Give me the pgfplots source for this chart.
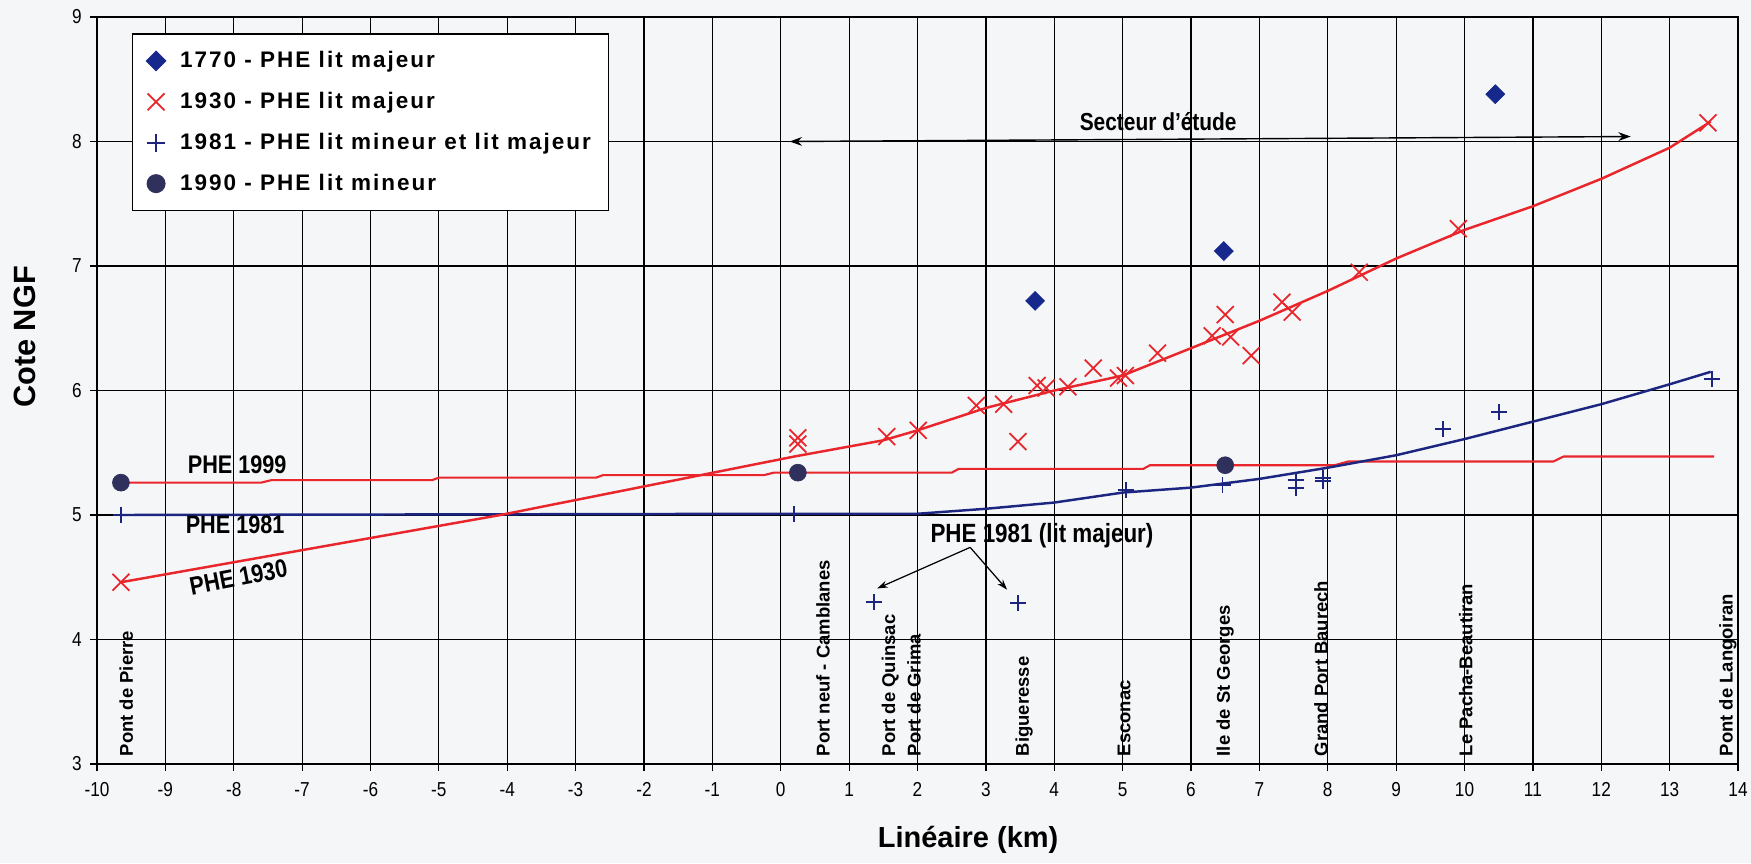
\documentclass[border=0pt]{standalone}
\usepackage{fontspec}
\setmainfont{Liberation Sans}
\newfontfamily\legfont[LetterSpace=9]{Liberation Sans}
\newfontfamily\narrowfont[FakeStretch=0.85]{Liberation Sans}
\usepackage{pgfplots}
\pgfplotsset{compat=1.18}
\usetikzlibrary{arrows.meta}

\definecolor{phered}{RGB}{232,38,43}
\definecolor{pheblue}{RGB}{28,38,128}
\definecolor{diamondblue}{RGB}{22,40,140}
\definecolor{circ}{RGB}{48,48,92}
\definecolor{bgc}{RGB}{245,246,248}

\begin{document}
\begin{tikzpicture}
\fill[bgc] (-1.94,-1.98) rectangle (33.08,15.28);
\useasboundingbox (-1.94,-1.98) rectangle (33.08,15.28);
\begin{axis}[
  at={(0,0)}, anchor=south west,
  width=32.82cm, height=14.94cm, scale only axis,
  xmin=-10, xmax=14, ymin=3, ymax=9,
  xtick={-10,-9,...,14}, ytick={3,4,...,9},
  grid=major,
  major grid style={black, line width=0.7pt},
  axis line style={black, line width=1.4pt},
  tick style={black, line width=0.7pt},
  tick align=outside, major tick length=0.14cm,
  xtick pos=lower, ytick pos=left,
  /pgf/number format/assume math mode=true,
  ticklabel style={font=\narrowfont\fontsize{11.5}{13}\selectfont},
  xticklabel style={yshift=-0.1cm},
  yticklabel style={xshift=-0.04cm},
  clip=false,
  legend cell align=left,
  legend style={at={(axis cs:-9.49,8.87)}, anchor=north west,
    draw=black, line width=0.8pt, fill=white,
    font=\legfont\fontsize{12.8}{15}\bfseries,
    row sep=8.5pt, column sep=0.22cm, inner xsep=8pt, inner ysep=8pt},
]
% PHE 1990 circles
\addplot[only marks, mark=*, mark size=4.8pt, mark options={fill=circ, draw=circ}, forget plot]
  coordinates {(-9.65,5.26) (0.25,5.34) (6.5,5.40)};
% PHE 1999 line
\addplot[phered, line width=1.2pt, forget plot] coordinates {
(-9.65,5.26) (-7.6,5.26) (-7.45,5.28) (-5.1,5.28) (-5.0,5.30) (-2.7,5.30) (-2.6,5.32)
(-0.25,5.32) (-0.1,5.34) (2.5,5.34) (2.6,5.37) (5.3,5.37) (5.4,5.40) (8.1,5.40)
(8.3,5.43) (11.3,5.43) (11.45,5.47) (13.65,5.47)};
% PHE 1981 line
\addplot[pheblue, line width=1.4pt, forget plot] coordinates {
(-9.65,5.0) (0.2,5.01) (2.0,5.01) (3.0,5.05) (4.0,5.10) (5.0,5.18) (6.0,5.22)
(7.0,5.29) (8.0,5.38) (9.0,5.48) (10.0,5.61) (11.0,5.75) (12.0,5.89) (13.0,6.05) (13.6,6.15)};
% PHE 1930 line
\addplot[phered, line width=1.4pt, forget plot] coordinates {
(-9.65,4.46) (-4.1,5.0) (0.2,5.47) (1.5,5.6) (2.0,5.68) (3.0,5.86) (4.0,6.0) (5.0,6.12)
(6.0,6.34) (7.0,6.56) (8.0,6.80) (9.0,7.06) (10.0,7.29) (11.0,7.48) (12.0,7.70)
(13.0,7.95) (13.6,8.16)};
% 1930 crosses
\addplot[only marks, mark=x, mark size=6.8pt, phered, mark options={line width=1pt}, forget plot] coordinates {
(-9.65,4.46) (0.25,5.62) (0.25,5.57) (1.55,5.63) (2.01,5.68) (2.86,5.88) (3.26,5.89)
(3.47,5.59) (3.75,6.04) (3.88,6.02) (4.20,6.03) (4.57,6.18) (4.94,6.10) (5.04,6.12)
(5.51,6.30) (6.31,6.44) (6.50,6.61) (6.58,6.43) (6.88,6.28) (7.33,6.71) (7.48,6.63)
(8.46,6.95) (9.91,7.30) (13.56,8.15)};
% 1981 plus
\addplot[only marks, mark=+, mark size=4.6pt, pheblue, mark options={line width=1.1pt}, forget plot] coordinates {
(-9.65,5.0) (0.2,5.01) (1.36,4.30) (3.47,4.29) (5.05,5.20) (6.46,5.24) (7.53,5.28)
(7.53,5.22) (7.93,5.27) (7.93,5.30) (9.68,5.69) (10.51,5.83) (13.62,6.09)};
% 1770 diamonds
\addplot[only marks, mark=square*, mark size=3.8pt, mark options={rotate=45, fill=diamondblue, draw=diamondblue}, forget plot]
  coordinates {(3.72,6.72) (6.48,7.12) (10.45,8.38)};

% legend
\addlegendimage{only marks, mark=square*, mark size=3.8pt, mark options={rotate=45, fill=diamondblue, draw=diamondblue}}
\addlegendentry{1770 - PHE lit majeur}
\addlegendimage{only marks, mark=x, mark size=6.8pt, phered, mark options={line width=1pt}}
\addlegendentry{1930 - PHE lit majeur}
\addlegendimage{only marks, mark=+, mark size=5.2pt, pheblue, mark options={line width=1.1pt}}
\addlegendentry{1981 - PHE lit mineur et lit majeur}
\addlegendimage{only marks, mark=*, mark size=5pt, mark options={fill=circ, draw=circ}}
\addlegendentry{1990 - PHE lit mineur}

% annotations
\node[font=\narrowfont\fontsize{14}{16}\bfseries\selectfont] at (axis cs:5.52,8.16) {Secteur d’étude};
\draw[{Stealth[length=7pt,width=5pt]}-{Stealth[length=7pt,width=5pt]}, line width=0.8pt] (axis cs:0.13,8.0) -- (axis cs:12.43,8.04);
\node[font=\narrowfont\fontsize{14.5}{16}\bfseries\selectfont] at (axis cs:-7.95,5.40) {PHE 1999};
\node[font=\narrowfont\fontsize{14.5}{16}\bfseries\selectfont] at (axis cs:-7.98,4.92) {PHE 1981};
\node[font=\narrowfont\fontsize{14.5}{16}\bfseries\selectfont, rotate=11] at (axis cs:-7.93,4.50) {PHE 1930};
\node[font=\narrowfont\fontsize{15}{17}\bfseries\selectfont] at (axis cs:3.82,4.83) {PHE 1981 (lit majeur)};
\draw[-{Stealth[length=6pt,width=4pt]}, line width=0.7pt] (axis cs:2.77,4.74) -- (axis cs:1.41,4.41);
\draw[-{Stealth[length=6pt,width=4pt]}, line width=0.7pt] (axis cs:2.77,4.74) -- (axis cs:3.31,4.40);

% place names
\tikzset{place/.style={rotate=90, anchor=west, inner sep=0pt, font=\fontsize{10.5}{12}\bfseries\selectfont}}
\node[place] at (axis cs:-9.57,3.06) {Pont de Pierre};
\node[place] at (axis cs:0.62,3.06) {Port neuf - Camblanes};
\node[place] at (axis cs:1.60,3.06) {Port de Quinsac};
\node[place] at (axis cs:1.95,3.06) {Port de Grima};
\node[place] at (axis cs:3.56,3.06) {Bigueresse};
\node[place] at (axis cs:5.02,3.06) {Esconac};
\node[place] at (axis cs:6.50,3.06) {Ile de St Georges};
\node[place] at (axis cs:7.90,3.06) {Grand Port Baurech};
\node[place] at (axis cs:10.02,3.06) {Le Pacha-Beautiran};
\node[place] at (axis cs:13.85,3.06) {Pont de Langoiran};

% axis titles
\node[font=\fontsize{16.5}{20}\bfseries\selectfont] at (axis cs:2.74,3) [yshift=-1.52cm] {Linéaire (km)};
\node[xshift=-1.44cm, font=\fontsize{17.5}{20}\bfseries\selectfont, rotate=90] at (axis cs:-10,6.43) {Cote NGF};
\end{axis}
\end{tikzpicture}
\end{document}
